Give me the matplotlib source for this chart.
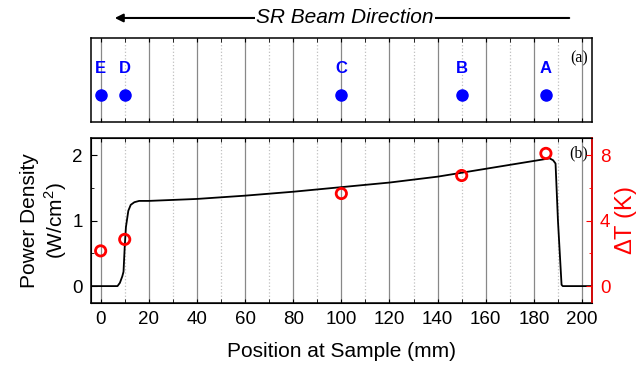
import matplotlib
matplotlib.use("Agg")
import matplotlib.pyplot as plt
from matplotlib.ticker import MultipleLocator

plt.rcParams['font.family'] = ['Liberation Sans', 'DejaVu Sans']
plt.rcParams['mathtext.fontset'] = 'custom'
plt.rcParams['mathtext.rm'] = 'Liberation Sans'

# sample positions (top panel)
pt_labels = ['E', 'D', 'C', 'B', 'A']
pt_pos = [0, 10, 100, 150, 185]

# power density profile along the sample
pd_x = [-4, 7, 8, 9, 9.5, 10, 10.5, 11.5, 12.5, 14, 16, 20, 40, 60, 80, 100,
        120, 140, 160, 180, 185, 186.5, 188, 189, 190, 191.5, 192, 204]
pd_y = [0, 0, 0.05, 0.15, 0.22, 0.6, 0.9, 1.15, 1.24, 1.28, 1.30, 1.30, 1.33,
        1.38, 1.44, 1.51, 1.58, 1.67, 1.79, 1.91, 1.94, 1.95, 1.92, 1.87, 1.0,
        0.02, 0, 0]

# measured temperature rise
dt_x = [0, 10, 100, 150, 185]
dt_y = [2.15, 2.85, 5.65, 6.75, 8.1]

fig = plt.figure(figsize=(6.41, 3.67), dpi=100)
ax_top = fig.add_axes([0.142, 0.668, 0.781, 0.229])
ax = fig.add_axes([0.142, 0.174, 0.781, 0.450])
ax2 = ax.twinx()

xlim = (-4, 204)


def vgrid(a):
    for g in range(0, 201, 10):
        if g % 20 == 0:
            a.axvline(g, color='#888888', lw=0.9, zorder=0)
        else:
            a.axvline(g, color='#c0c0c0', lw=0.9, ls=':', zorder=0)


# top panel
vgrid(ax_top)
ax_top.scatter(pt_pos, [0.32] * len(pt_pos), s=64, color='#0000ff', zorder=3)
for lab, p in zip(pt_labels, pt_pos):
    ax_top.text(p, 0.63, lab, color='#0000ff', fontsize=12, fontweight='bold',
                ha='center', va='center')
ax_top.text(202.5, 0.76, '(a)', family='Liberation Serif', fontsize=11.5,
            ha='right', va='center')
ax_top.set_xlim(*xlim)
ax_top.set_ylim(0, 1)
ax_top.set_yticks([])
ax_top.xaxis.set_major_locator(MultipleLocator(20))
ax_top.xaxis.set_minor_locator(MultipleLocator(10))
ax_top.tick_params(axis='x', which='both', direction='in', top=True,
                   labelbottom=False, length=3)
for s in ax_top.spines.values():
    s.set_linewidth(1.1)

# bottom panel
vgrid(ax)
ax.plot(pd_x, pd_y, color='black', lw=1.3, zorder=2)
ax.set_xlim(*xlim)
ax.set_ylim(-0.26, 2.26)
ax.xaxis.set_major_locator(MultipleLocator(20))
ax.xaxis.set_minor_locator(MultipleLocator(10))
ax.yaxis.set_major_locator(MultipleLocator(1))
ax.yaxis.set_minor_locator(MultipleLocator(0.5))
ax.tick_params(axis='both', which='both', direction='in', labelsize=13.5)
ax.tick_params(axis='x', which='both', top=True, length=3, pad=6)
ax.tick_params(axis='y', which='major', length=4, pad=6)
ax.tick_params(axis='y', which='minor', length=2.5)
ax.set_xlabel('Position at Sample (mm)', fontsize=15, labelpad=10)
ax.set_ylabel('Power Density\n(W/cm$^2$)', fontsize=15, linespacing=1.2,
              labelpad=2)
for s in ax.spines.values():
    s.set_linewidth(1.1)

ax2.scatter(dt_x, dt_y, s=55, facecolors='none', edgecolors='#ff0000',
            linewidths=2, zorder=4, clip_on=False)
ax2.set_ylim(-1.04, 9.04)
ax2.yaxis.set_major_locator(MultipleLocator(4))
ax2.yaxis.set_minor_locator(MultipleLocator(2))
ax2.tick_params(axis='y', which='both', direction='in', colors='#ff0000',
                labelsize=13.5)
ax2.tick_params(axis='y', which='major', length=4, pad=6)
ax2.tick_params(axis='y', which='minor', length=2.5)
ax2.spines['right'].set_color('#ff0000')
ax2.spines['right'].set_linewidth(1.1)
ax2.set_ylabel(r'$\Delta$T (K)', color='#ff0000', fontsize=17, labelpad=2)
ax.text(202.5, 2.03, '(b)', family='Liberation Serif', fontsize=11.5,
        ha='right', va='center', zorder=5)

# beam direction arrow
fig.text(345 / 641, 0.951, 'SR Beam Direction', fontsize=15, style='italic',
         ha='center', va='center',
         bbox=dict(facecolor='white', edgecolor='none', pad=1))
ax_top.annotate('', xy=(112 / 641, 0.951), xycoords='figure fraction',
                xytext=(572 / 641, 0.951), textcoords='figure fraction',
                arrowprops=dict(arrowstyle='-|>', color='black', lw=1.5,
                                mutation_scale=12),
                zorder=0)

fig.savefig('out.png', dpi=100)
